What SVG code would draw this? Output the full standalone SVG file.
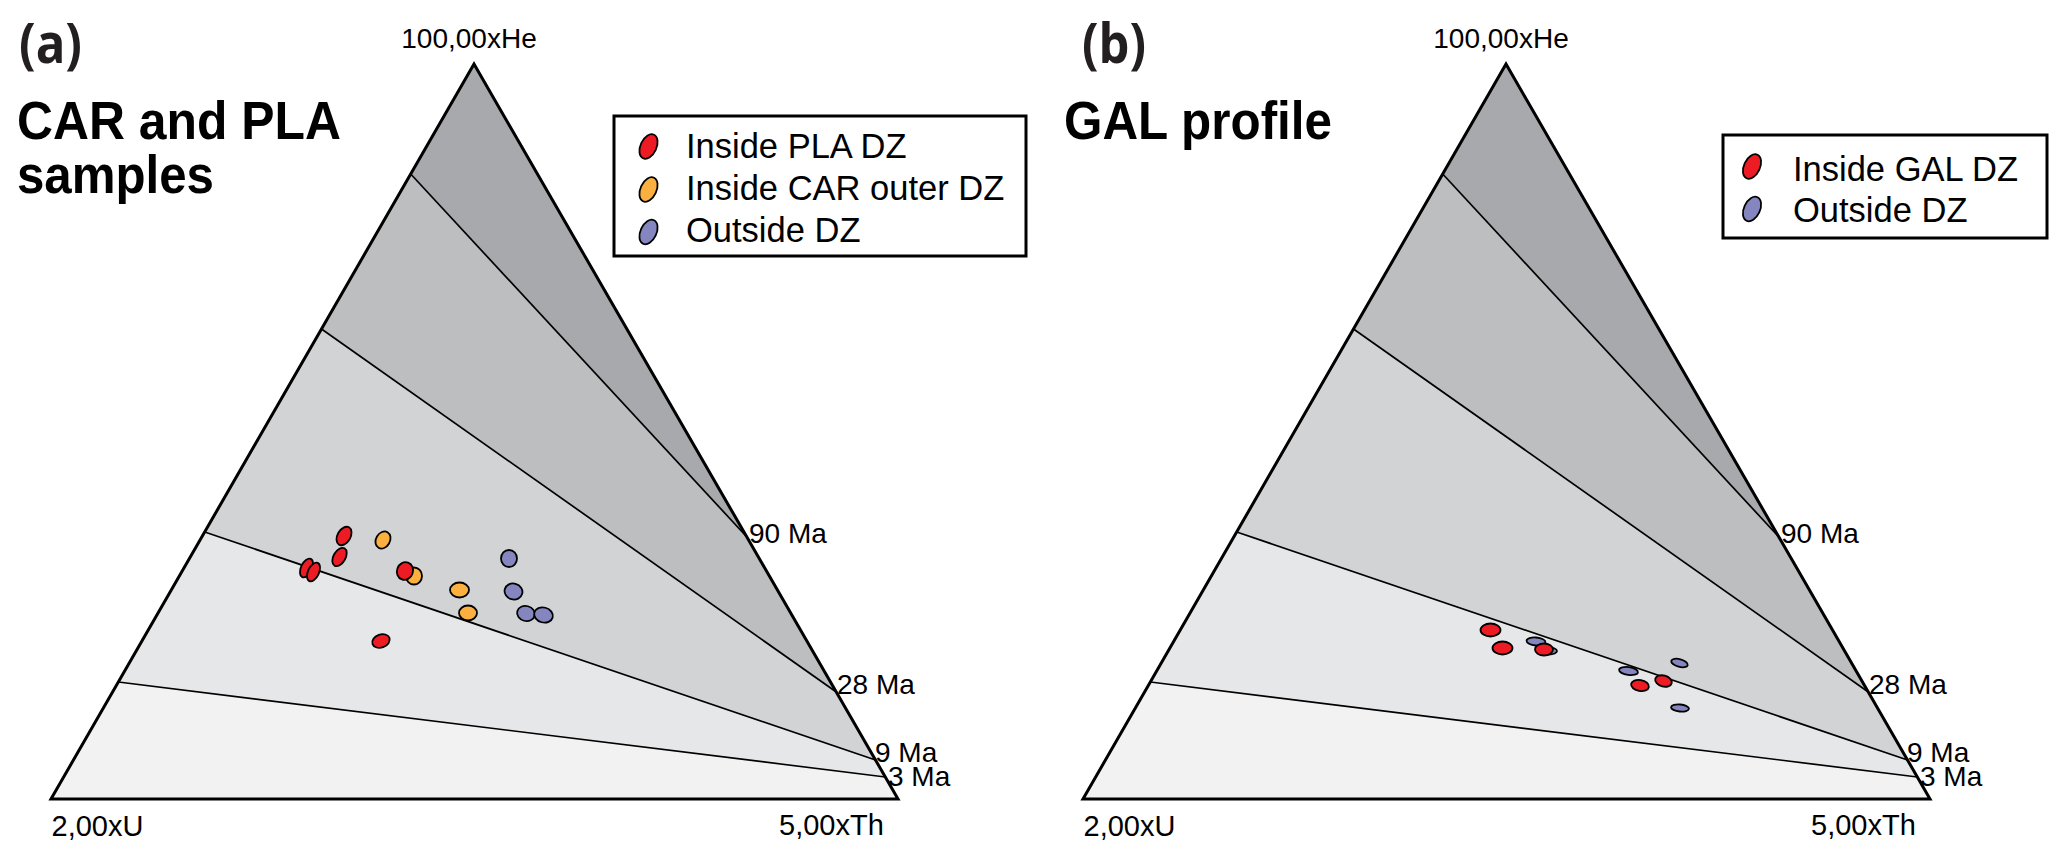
<svg xmlns="http://www.w3.org/2000/svg" xmlns:xlink="http://www.w3.org/1999/xlink" width="2067" height="859" viewBox="0 0 2067 859">
<style>
.lbl{font-family:"Liberation Sans",Arial,sans-serif;font-size:28px;fill:#000}
.corner{font-family:"Liberation Sans",Arial,sans-serif;font-size:29px;fill:#000}
.title{font-family:"Liberation Sans",Arial,sans-serif;font-size:53px;font-weight:bold;fill:#000}
.tag{font-family:"Open Sans","Liberation Sans",sans-serif;font-size:56px;font-weight:bold;fill:#231f20}
.leg{font-family:"Liberation Sans",Arial,sans-serif;font-size:34.5px;fill:#000}
.box{fill:#fff;stroke:#000;stroke-width:3}
.iso{fill:none;stroke:#000;stroke-width:1.7}
.edge{fill:none;stroke:#000;stroke-width:3;stroke-linejoin:miter}
.r{fill:#ed1c24;stroke:#000;stroke-width:1.8}
.o{fill:#fbb040;stroke:#000;stroke-width:1.8}
.b{fill:#8586bf;stroke:#000;stroke-width:1.8}
</style>
<defs>
<g id="tri">
<polygon points="474,64 746.9,537 410.7,174" fill="#a7a9ac"/>
<polygon points="410.7,174 746.9,537 836.3,692 321.5,329" fill="#bcbec0"/>
<polygon points="321.5,329 836.3,692 875.5,760 204.7,532" fill="#d1d3d4"/>
<polygon points="204.7,532 875.5,760 885.3,777 118.3,682" fill="#e6e7e8"/>
<polygon points="118.3,682 885.3,777 898,799 51,799" fill="#f2f2f2"/>
<line class="iso" x1="410.7" y1="174" x2="746.9" y2="537"/>
<line class="iso" x1="321.5" y1="329" x2="836.3" y2="692"/>
<line class="iso" x1="204.7" y1="532" x2="875.5" y2="760"/>
<line class="iso" x1="118.3" y1="682" x2="885.3" y2="777"/>
<polygon class="edge" points="474,64 898,799 51,799"/>
<text class="lbl" x="469" y="48" text-anchor="middle">100,00xHe</text>
<text class="corner" x="51.5" y="836">2,00xU</text>
<text class="corner" x="779" y="835">5,00xTh</text>
<text class="lbl" x="749" y="543">90 Ma</text>
<text class="lbl" x="837" y="694">28 Ma</text>
<text class="lbl" x="875" y="762">9 Ma</text>
<text class="lbl" x="888" y="786">3 Ma</text>
</g>
<ellipse id="glyph" cx="0" cy="0" rx="8" ry="13" transform="rotate(25)"/>
</defs>

<g id="panel-a">
<text class="tag" x="19" y="63" textLength="63" lengthAdjust="spacingAndGlyphs">(a)</text>
<text class="title" x="17" y="139" textLength="324" lengthAdjust="spacingAndGlyphs">CAR and PLA</text>
<text class="title" x="17" y="193" textLength="197" lengthAdjust="spacingAndGlyphs">samples</text>
<use id="ternary-a" xlink:href="#tri"/>
<g id="legend-a">
<rect class="box" x="614" y="116" width="412" height="140"/>
<use xlink:href="#glyph" class="r" x="648.5" y="146.5"/>
<use xlink:href="#glyph" class="o" x="648.5" y="189.5"/>
<use xlink:href="#glyph" class="b" x="648.5" y="232"/>
<text class="leg" x="686" y="157.5">Inside PLA DZ</text>
<text class="leg" x="686" y="200">Inside CAR outer DZ</text>
<text class="leg" x="686" y="242">Outside DZ</text>
</g>
<g id="points-a">
<ellipse class="r" cx="344" cy="536" rx="6.5" ry="10" transform="rotate(30 344 536)"/>
<ellipse class="r" cx="339.5" cy="557" rx="6" ry="10" transform="rotate(30 339.5 557)"/>
<ellipse class="r" cx="306.5" cy="568" rx="5.5" ry="10" transform="rotate(25 306.5 568)"/>
<ellipse class="r" cx="313.5" cy="572" rx="5.5" ry="10" transform="rotate(25 313.5 572)"/>
<ellipse class="r" cx="381" cy="641" rx="9" ry="6.5" transform="rotate(-20 381 641)"/>
<ellipse class="o" cx="383" cy="540" rx="7" ry="9" transform="rotate(30 383 540)"/>
<ellipse class="o" cx="414" cy="576" rx="8" ry="8.5"/>
<ellipse class="r" cx="405" cy="571" rx="8" ry="9" transform="rotate(20 405 571)"/>
<ellipse class="o" cx="459.5" cy="590" rx="9.5" ry="7.5"/>
<ellipse class="o" cx="468" cy="613" rx="9" ry="7.5"/>
<ellipse class="b" cx="509" cy="558.5" rx="8" ry="8.5"/>
<ellipse class="b" cx="513.5" cy="591.5" rx="9" ry="8" transform="rotate(15 513.5 591.5)"/>
<ellipse class="b" cx="526" cy="613.5" rx="9" ry="7.5" transform="rotate(15 526 613.5)"/>
<ellipse class="b" cx="543.5" cy="615" rx="9.5" ry="7.5" transform="rotate(15 543.5 615)"/>
</g>
</g>

<g id="panel-b">
<text class="tag" x="1082" y="63" textLength="64" lengthAdjust="spacingAndGlyphs">(b)</text>
<text class="title" x="1064" y="139" textLength="268" lengthAdjust="spacingAndGlyphs">GAL profile</text>
<use id="ternary-b" xlink:href="#tri" transform="translate(1032,0)"/>
<g id="legend-b">
<rect class="box" x="1723" y="135" width="324" height="103"/>
<use xlink:href="#glyph" class="r" x="1752" y="166.5"/>
<use xlink:href="#glyph" class="b" x="1752" y="209"/>
<text class="leg" x="1793" y="180.5">Inside GAL DZ</text>
<text class="leg" x="1793" y="222">Outside DZ</text>
</g>
<g id="points-b">
<ellipse class="r" cx="1490.5" cy="630" rx="10" ry="6.5"/>
<ellipse class="r" cx="1502.5" cy="648" rx="10" ry="6.5"/>
<ellipse class="b" cx="1536" cy="641.5" rx="9.5" ry="4" transform="rotate(5 1536 641.5)"/>
<ellipse class="b" cx="1549" cy="651" rx="8" ry="3.5"/>
<ellipse class="r" cx="1544" cy="649.5" rx="9" ry="6"/>
<ellipse class="b" cx="1628.5" cy="671" rx="9.5" ry="4" transform="rotate(8 1628.5 671)"/>
<ellipse class="b" cx="1679.5" cy="663" rx="8.5" ry="3.8" transform="rotate(15 1679.5 663)"/>
<ellipse class="r" cx="1663.5" cy="681" rx="8.5" ry="5.5" transform="rotate(15 1663.5 681)"/>
<ellipse class="r" cx="1640" cy="685.5" rx="9" ry="5.5" transform="rotate(10 1640 685.5)"/>
<ellipse class="b" cx="1680" cy="708" rx="9" ry="3.5" transform="rotate(5 1680 708)"/>
</g>
</g>
</svg>
